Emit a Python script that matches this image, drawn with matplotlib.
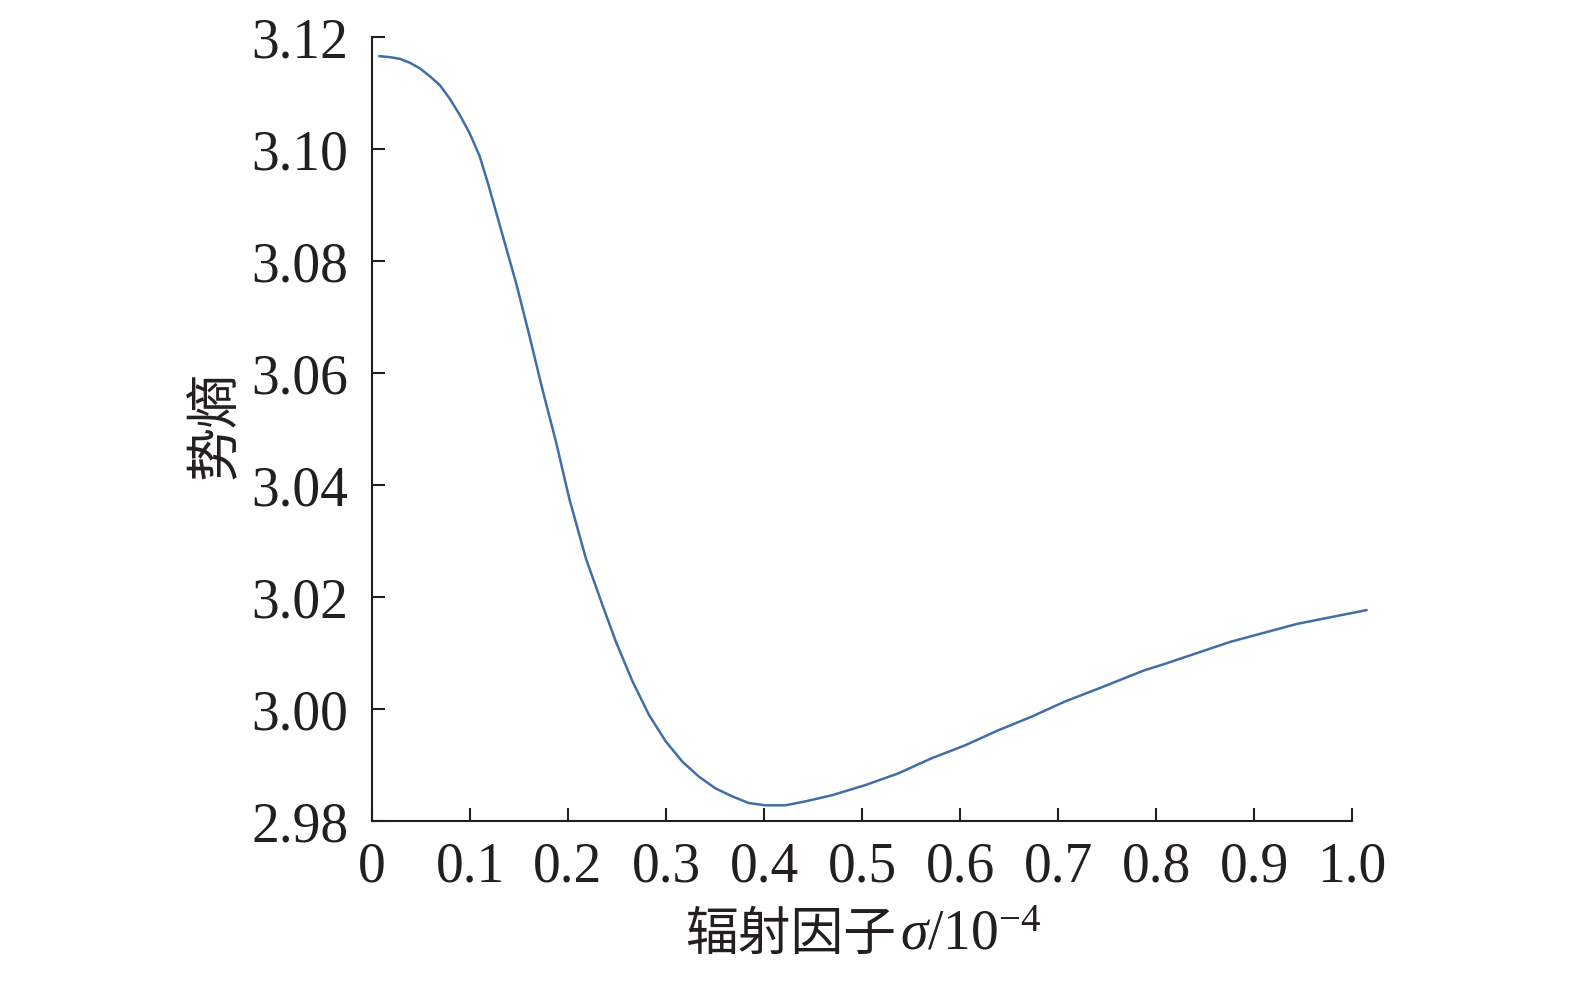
import matplotlib
matplotlib.use("Agg")
import matplotlib.pyplot as plt

# Data
sigma = [0.0064, 0.0183, 0.0285, 0.0387, 0.0488, 0.059, 0.0692, 0.0793, 0.0895,
         0.0997, 0.1099, 0.1183, 0.1336, 0.147, 0.1607, 0.1743, 0.1879, 0.2014,
         0.2184, 0.2353, 0.2489, 0.2659, 0.2828, 0.2998, 0.3167, 0.3337, 0.3507,
         0.3676, 0.3845, 0.4015, 0.4218, 0.4422, 0.4693, 0.5032, 0.537, 0.571,
         0.605, 0.639, 0.6727, 0.7066, 0.7406, 0.788, 0.808, 0.876, 0.944, 1.016]
entropy = [3.1166, 3.1164, 3.1161, 3.1154, 3.1144, 3.1130, 3.1114, 3.1090, 3.1061,
           3.1028, 3.0987, 3.0939, 3.0844, 3.0761, 3.0666, 3.0568, 3.0476, 3.0375,
           3.0268, 3.0185, 3.0120, 3.0049, 2.9989, 2.9942, 2.9906, 2.9879, 2.9858,
           2.9844, 2.9832, 2.9828, 2.9828, 2.9835, 2.9846, 2.9864, 2.9885, 2.9912,
           2.9935, 2.9962, 2.9986, 3.0013, 3.0036, 3.0069, 3.0080, 3.0120, 3.0152, 3.0177]
xticks = [0, 0.1, 0.2, 0.3, 0.4, 0.5, 0.6, 0.7, 0.8, 0.9, 1.0]
xticklabels = ["0", "0.1", "0.2", "0.3", "0.4", "0.5", "0.6", "0.7", "0.8", "0.9", "1.0"]
yticks = [2.98, 3.00, 3.02, 3.04, 3.06, 3.08, 3.10, 3.12]
yticklabels = ["2.98", "3.00", "3.02", "3.04", "3.06", "3.08", "3.10", "3.12"]
xlabel_cn = "辐射因子"
xlabel_sym = "$\\sigma$/10$^{-4}$"
ylabel = "势熵"

plt.rcParams['font.family'] = ['Liberation Serif', 'Noto Sans CJK SC', 'DejaVu Sans']
plt.rcParams['mathtext.fontset'] = 'custom'
plt.rcParams['mathtext.rm'] = 'Liberation Serif'
plt.rcParams['mathtext.it'] = 'Liberation Serif:italic'
plt.rcParams['axes.unicode_minus'] = True

W, H = 1575, 981
fig = plt.figure(figsize=(W / 100, H / 100), dpi=100)
ax = fig.add_axes([372 / W, 1 - 821 / H, 980 / W, 784 / H])

ax.plot(sigma, entropy, color='#3f6fa6', linewidth=1.8, clip_on=False,
        solid_joinstyle='round', solid_capstyle='butt')

ax.set_xlim(0, 1.0)
ax.set_ylim(2.98, 3.12)
ax.set_xticks(xticks)
ax.set_xticklabels(xticklabels)
ax.set_yticks(yticks)
ax.set_yticklabels(yticklabels)

for s in ['top', 'right']:
    ax.spines[s].set_visible(False)
for s in ['left', 'bottom']:
    ax.spines[s].set_linewidth(1.5)
    ax.spines[s].set_color('#231f20')

ax.tick_params(axis='both', direction='in', length=9.5, width=1.5,
               colors='#231f20', labelsize=40, labelcolor='#231f20')
ax.tick_params(axis='y', pad=17)
ax.tick_params(axis='x', pad=15)

ax.set_ylabel(ylabel, fontsize=39, color='#231f20', va='center', ha='center',
              family=['Noto Sans CJK SC'])
ax.yaxis.set_label_coords(-0.16, 0.505)

# x label composed of a CJK part and a serif/maths part, baseline-aligned
base_y = 1 - 950 / H
t1 = fig.text(0, base_y, xlabel_cn, family=['Noto Sans CJK SC'], fontsize=38,
              color='#231f20', va='baseline', ha='left')
t2 = fig.text(0, base_y, xlabel_sym, fontsize=40, color='#231f20',
              va='baseline', ha='left')
fig.canvas.draw()
r = fig.canvas.get_renderer()
w1 = t1.get_window_extent(r).width
w2 = t2.get_window_extent(r).width
gap = 4
total = w1 + gap + w2
x0 = 863 - total / 2
t1.set_x(x0 / W)
t2.set_x((x0 + w1 + gap) / W)

fig.savefig("out.png", dpi=100, facecolor='white')
